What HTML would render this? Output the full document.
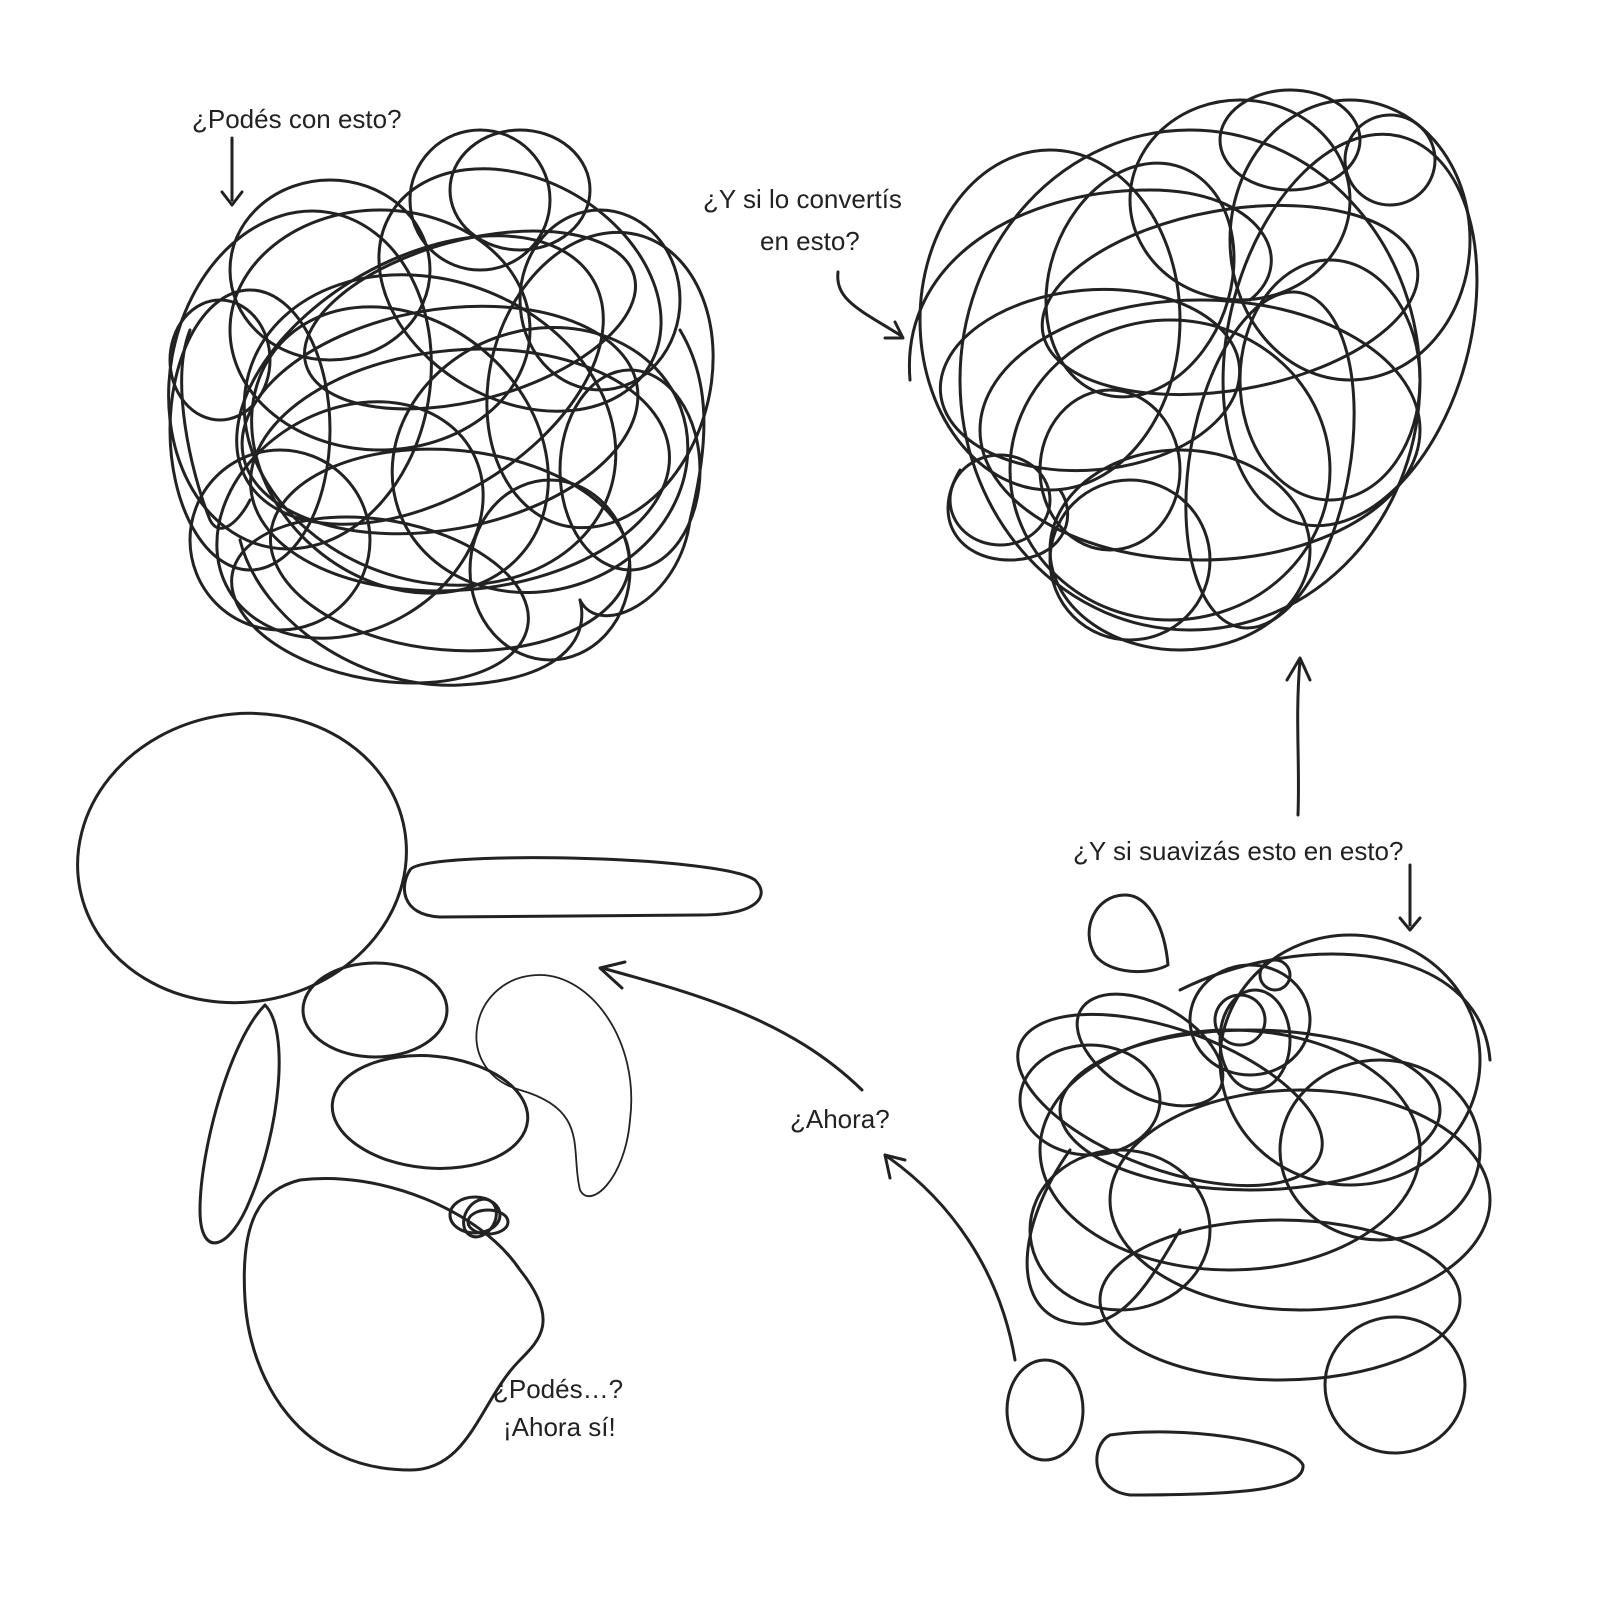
<!DOCTYPE html>
<html><head><meta charset="utf-8"><style>
html,body{margin:0;padding:0;background:#fff}
svg{display:block}
text{font-family:"Liberation Sans",sans-serif;font-size:26px;fill:#222}
</style></head><body>
<svg width="1600" height="1600" viewBox="0 0 1600 1600" xmlns="http://www.w3.org/2000/svg">
<g fill="none" stroke="#222" stroke-width="3" stroke-linecap="round" stroke-linejoin="round">
<!-- Top-left tangle -->
<g>
<ellipse cx="440" cy="420" rx="200" ry="110" transform="rotate(-10 440 420)"/>
<ellipse cx="430" cy="430" rx="190" ry="150" transform="rotate(20 430 430)"/>
<ellipse cx="380" cy="330" rx="150" ry="120"/>
<ellipse cx="520" cy="290" rx="150" ry="110" transform="rotate(30 520 290)"/>
<ellipse cx="300" cy="380" rx="130" ry="170" transform="rotate(10 300 380)"/>
<ellipse cx="540" cy="460" rx="150" ry="130" transform="rotate(-20 540 460)"/>
<ellipse cx="450" cy="550" rx="180" ry="100" transform="rotate(5 450 550)"/>
<ellipse cx="350" cy="520" rx="140" ry="110" transform="rotate(-30 350 520)"/>
<ellipse cx="600" cy="380" rx="110" ry="150" transform="rotate(15 600 380)"/>
<ellipse cx="250" cy="430" rx="80" ry="140"/>
<ellipse cx="480" cy="200" rx="70" ry="70"/>
<ellipse cx="520" cy="190" rx="70" ry="60"/>
<ellipse cx="420" cy="380" rx="120" ry="200" transform="rotate(60 420 380)"/>
<ellipse cx="460" cy="470" rx="210" ry="120" transform="rotate(-5 460 470)"/>
<ellipse cx="380" cy="600" rx="150" ry="80" transform="rotate(10 380 600)"/>
<ellipse cx="630" cy="470" rx="70" ry="100"/>
<ellipse cx="220" cy="360" rx="50" ry="60"/>
<ellipse cx="550" cy="570" rx="80" ry="90"/>
<ellipse cx="330" cy="270" rx="100" ry="90"/>
<ellipse cx="470" cy="320" rx="170" ry="80" transform="rotate(-15 470 320)"/>
<ellipse cx="400" cy="450" rx="160" ry="130" transform="rotate(40 400 450)"/>
<ellipse cx="280" cy="540" rx="90" ry="90"/>
<ellipse cx="600" cy="300" rx="80" ry="90"/>
<path d="M240 540 C 260 620 360 690 460 685 C 560 680 590 640 580 600"/>
<path d="M580 600 C 600 640 680 600 690 520 C 710 440 710 380 680 330"/>
<path d="M190 330 C 170 380 190 470 210 520 C 220 540 240 520 250 500"/>
</g>
<!-- Top-right tangle -->
<g>
<ellipse cx="1190" cy="380" rx="230" ry="250"/>
<ellipse cx="1200" cy="430" rx="220" ry="130"/>
<ellipse cx="1170" cy="470" rx="160" ry="150"/>
<ellipse cx="1050" cy="320" rx="130" ry="170"/>
<ellipse cx="1240" cy="200" rx="110" ry="100"/>
<ellipse cx="1350" cy="240" rx="120" ry="140"/>
<ellipse cx="1330" cy="380" rx="90" ry="120"/>
<ellipse cx="1000" cy="500" rx="50" ry="45"/>
<ellipse cx="1110" cy="470" rx="70" ry="80"/>
<ellipse cx="1180" cy="550" rx="130" ry="100"/>
<ellipse cx="1230" cy="300" rx="190" ry="90" transform="rotate(-10 1230 300)"/>
<ellipse cx="1140" cy="280" rx="90" ry="120" transform="rotate(20 1140 280)"/>
<ellipse cx="1290" cy="140" rx="70" ry="50"/>
<ellipse cx="1390" cy="160" rx="45" ry="45"/>
<ellipse cx="1270" cy="460" rx="80" ry="170" transform="rotate(10 1270 460)"/>
<ellipse cx="1090" cy="380" rx="150" ry="90" transform="rotate(-5 1090 380)"/>
<ellipse cx="1350" cy="330" rx="120" ry="200" transform="rotate(15 1350 330)"/>
<ellipse cx="1130" cy="560" rx="80" ry="80"/>
<path d="M910 380 C 900 260 1020 190 1150 190 C 1260 190 1300 260 1250 300"/>
<path d="M960 470 C 930 520 960 560 1010 560 C 1060 560 1080 520 1060 490"/>
</g>
<!-- Bottom-right tangle -->
<g>
<ellipse cx="1350" cy="1060" rx="130" ry="125"/>
<ellipse cx="1250" cy="1110" rx="190" ry="80"/>
<ellipse cx="1170" cy="1100" rx="160" ry="70" transform="rotate(20 1170 1100)"/>
<ellipse cx="1090" cy="1100" rx="70" ry="55"/>
<ellipse cx="1230" cy="1150" rx="190" ry="120"/>
<ellipse cx="1300" cy="1200" rx="190" ry="110"/>
<ellipse cx="1120" cy="1230" rx="90" ry="80"/>
<ellipse cx="1280" cy="1300" rx="180" ry="80"/>
<ellipse cx="1250" cy="1020" rx="60" ry="55"/>
<ellipse cx="1255" cy="1040" rx="35" ry="50"/>
<ellipse cx="1240" cy="1020" rx="25" ry="25"/>
<ellipse cx="1275" cy="975" rx="15" ry="15"/>
<ellipse cx="1150" cy="1050" rx="80" ry="45" transform="rotate(30 1150 1050)"/>
<ellipse cx="1380" cy="1150" rx="100" ry="90"/>
<path d="M1180 990 C 1300 930 1480 940 1490 1060"/>
<path d="M1070 1150 C 1020 1220 1010 1300 1060 1320 C 1120 1340 1150 1280 1180 1230"/>
</g>
<!-- Bottom-left shapes -->
<ellipse cx="242" cy="858" rx="165" ry="144" transform="rotate(-10 242 858)"/>
<path d="M410 870 C 420 850 720 855 755 880 C 770 895 760 915 700 915 L 440 917 C 400 915 400 885 410 870 Z"/>
<ellipse cx="375" cy="1010" rx="72" ry="47"/>
<path d="M265 1005 C 290 1030 280 1130 250 1200 C 230 1250 200 1260 200 1210 C 200 1150 230 1040 265 1005 Z"/>
<ellipse cx="430" cy="1112" rx="98" ry="56" transform="rotate(5 430 1112)"/>
<path stroke-width="1.8" d="M540 975 C 590 975 640 1040 630 1120 C 625 1180 590 1210 580 1190 C 570 1150 590 1110 520 1090 C 450 1070 470 975 540 975 Z"/>
<path d="M300 1180 C 380 1170 480 1210 520 1270 C 560 1320 540 1340 520 1360 C 480 1400 470 1470 410 1470 C 300 1470 250 1380 245 1300 C 240 1220 260 1190 300 1180 Z"/>
<ellipse cx="475" cy="1215" rx="25" ry="18"/>
<ellipse cx="480" cy="1218" rx="15" ry="20" transform="rotate(30 480 1218)"/>
<ellipse cx="488" cy="1222" rx="20" ry="12"/>
<!-- Bottom-right shapes -->
<path d="M1125 895 C 1150 895 1165 930 1168 965 C 1150 975 1110 975 1095 955 C 1080 930 1095 895 1125 895 Z"/>
<ellipse cx="1045" cy="1410" rx="38" ry="50"/>
<path d="M1110 1435 C 1180 1425 1290 1440 1303 1465 C 1305 1490 1240 1495 1130 1495 C 1090 1490 1090 1445 1110 1435 Z"/>
<ellipse cx="1395" cy="1385" rx="70" ry="68"/>
<!-- Arrows -->
<path d="M232 138 L 232 200 M222 192 L232 205 L242 192"/>
<path d="M838 272 C 835 300 860 310 900 335 M885 338 L903 338 L895 322"/>
<path d="M1298 815 C 1300 760 1295 720 1300 660 M1287 680 L1300 658 L1310 680"/>
<path d="M1410 865 L 1410 925 M1400 918 L1410 930 L1420 918"/>
<path d="M862 1090 C 790 1020 700 995 602 968 M622 988 L600 968 L625 962"/>
<path d="M1015 1360 C 1000 1270 950 1200 885 1155 M890 1178 L885 1155 L905 1160"/>
</g>
<text x="192" y="128">¿Podés con esto?</text>
<text x="703" y="208">¿Y si lo convertís</text>
<text x="760" y="250">en esto?</text>
<text x="1073" y="860">¿Y si suavizás esto en esto?</text>
<text x="790" y="1128">¿Ahora?</text>
<text x="493" y="1398">¿Podés…?</text>
<text x="503" y="1436">¡Ahora sí!</text>
</svg>
</body></html>
